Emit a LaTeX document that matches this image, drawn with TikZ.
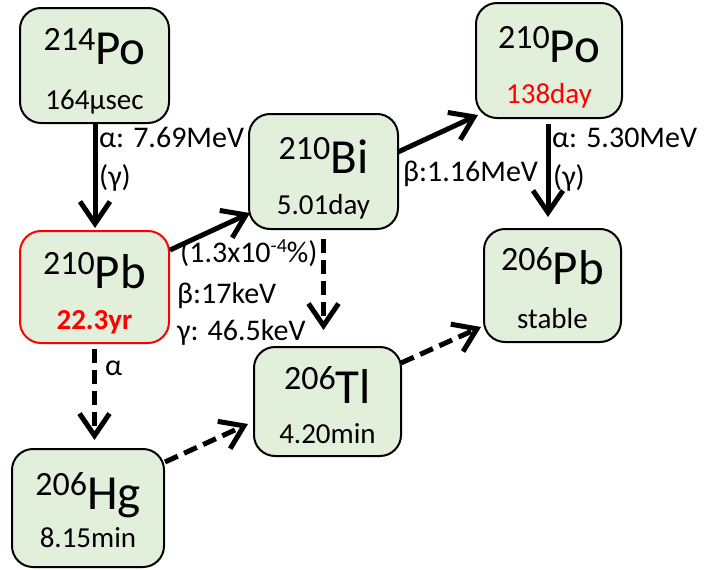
\documentclass[tikz,border=0pt]{standalone}
\usepackage{fontspec}
\setmainfont{Carlito}
\usetikzlibrary{arrows.meta,calc}
\definecolor{boxfill}{RGB}{226,239,218}
\definecolor{hotred}{RGB}{255,0,0}

% mass number as a raised prefix, then the element symbol
\newcommand\isolabel[2]{\raisebox{14pt}{\fontsize{34}{34}\selectfont #1}{\fontsize{49}{49}\selectfont #2}}

\begin{document}
\begin{tikzpicture}[x=1pt,y=-1pt,
  nuc/.style={draw=black, line width=2pt, fill=boxfill, rounded corners=21pt, inner sep=0pt, outer sep=0pt},
  hotnuc/.style={nuc, draw=hotred},
  elem/.style={anchor=base, inner sep=0pt},
  life/.style={anchor=base, inner sep=0pt, font=\fontsize{29}{29}\selectfont},
  decay/.style={anchor=base west, inner sep=0pt, font=\fontsize{30}{30}\selectfont},
  solidarrow/.style={line width=5pt, -{Straight Barb[length=22pt,width=30pt]}},
  dasharrow/.style={solidarrow, dash pattern=on 14pt off 7pt},
]
\useasboundingbox (0,0) rectangle (718,570);

% ---- nuclide boxes ----
\node[nuc, minimum width=149pt, minimum height=115pt] (po214) at (94.5,65.5) {};
\node[elem] (po214-el) at ($(po214.north)+(0,56)$) {\isolabel{214}{Po}};
\node[life] (po214-hl) at ($(po214.north)+(0,101)$) {164μsec};

\node[hotnuc, minimum width=149pt, minimum height=112pt] (pb210) at (94.5,287) {};
\node[elem] (pb210-el) at ($(pb210.north)+(0,57)$) {\isolabel{210}{Pb}};
\node[life, text=hotred] (pb210-hl) at ($(pb210.north)+(0,98)$) {\bfseries 22.3yr};

\node[nuc, minimum width=149pt, minimum height=115pt] (bi210) at (323.5,171.5) {};
\node[elem] (bi210-el) at ($(bi210.north)+(0,59)$) {\isolabel{210}{Bi}};
\node[life] (bi210-hl) at ($(bi210.north)+(0,100)$) {5.01day};

\node[nuc, minimum width=146pt, minimum height=115pt] (po210) at (549,60.5) {};
\node[elem] (po210-el) at ($(po210.north)+(0,59)$) {\isolabel{210}{Po}};
\node[life, text=hotred] (po210-hl) at ($(po210.north)+(0,100)$) {138day};

\node[nuc, minimum width=137pt, minimum height=113pt] (pb206) at (552.5,285.5) {};
\node[elem] (pb206-el) at ($(pb206.north)+(0,55)$) {\isolabel{206}{Pb}};
\node[life] (pb206-hl) at ($(pb206.north)+(0,99)$) {stable};

\node[nuc, minimum width=147pt, minimum height=109pt] (tl206) at (327.5,401.5) {};
\node[elem] (tl206-el) at ($(tl206.north)+(0,56)$) {\isolabel{206}{Tl}};
\node[life] (tl206-hl) at ($(tl206.north)+(0,96)$) {4.20min};

\node[nuc, minimum width=152pt, minimum height=118pt] (hg206) at (88,508) {};
\node[elem] (hg206-el) at ($(hg206.north)+(0,60)$) {\isolabel{206}{Hg}};
\node[life] (hg206-hl) at ($(hg206.north)+(0,98)$) {8.15min};

% ---- decays ----
\draw[solidarrow] ($(po214.south)+(0.5,1)$) -- ($(po214.south |- pb210.north)+(0.5,-3)$);
\draw[solidarrow] ($(pb210.north east)+(1,19)$) -- ($(bi210.south west)+(1,-16)$);
\draw[solidarrow] ($(bi210.east)+(0,-19.5)$) -- ($(po210.south west)+(2,-3)$);
\draw[solidarrow] ($(po210.south)+(-1,6)$) -- ($(po210.south |- pb206.north)+(-1,-12)$);
\draw[dasharrow] ($(bi210.south)+(0,10)$) -- ($(bi210.south |- tl206.north)+(0,-17)$);
\draw[dasharrow] ($(pb210.south)+(0,6)$) -- ($(pb210.south |- hg206.north)+(0,-9)$);
\draw[dasharrow] ($(hg206.north east)+(1,13)$) -- ($(tl206.south west)+(-6,-32)$);
\draw[dasharrow] ($(tl206.north east)+(0,16)$) -- ($(pb206.south west)+(-3,-15)$);

% ---- decay labels ----
\node[decay] (l-a769) at (99,147) {α: 7.69MeV};
\node[decay] (l-g1) at (99,186) {(γ)};
\node[decay] (l-br) at (180,262) {(1.3x10\raisebox{10pt}{\fontsize{20}{20}\selectfont -4}\%)};
\node[decay] (l-b17) at (177,303) {β:17keV};
\node[decay] (l-g465) at (177,340) {γ: 46.5keV};
\node[decay] (l-b116) at (403,181) {β:1.16MeV};
\node[decay] (l-a530) at (552,147) {α: 5.30MeV};
\node[decay] (l-g2) at (553,186) {(γ)};
\node[decay] (l-a) at (105,375) {α};
\end{tikzpicture}
\end{document}
